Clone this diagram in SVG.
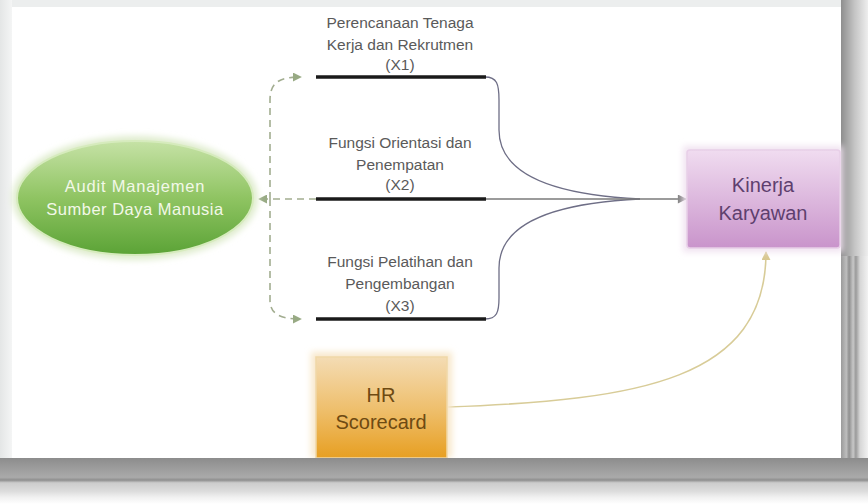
<svg xmlns="http://www.w3.org/2000/svg" width="868" height="504" viewBox="0 0 868 504">
<defs>
<linearGradient id="gEll" x1="0" y1="0" x2="0" y2="1"><stop offset="0" stop-color="#c6e2a6"/><stop offset="0.5" stop-color="#8fc462"/><stop offset="1" stop-color="#5ba336"/></linearGradient>
<linearGradient id="gKin" x1="0" y1="0" x2="0" y2="1"><stop offset="0" stop-color="#f0dcf0"/><stop offset="1" stop-color="#c994cb"/></linearGradient>
<linearGradient id="gHR" x1="0" y1="0" x2="0" y2="1"><stop offset="0" stop-color="#f4dcb4"/><stop offset="0.55" stop-color="#eebd68"/><stop offset="1" stop-color="#e79f22"/></linearGradient>
<linearGradient id="gRight" x1="0" y1="0" x2="1" y2="0"><stop offset="0" stop-color="#8e8e8e"/><stop offset="0.5" stop-color="#c4c4c4"/><stop offset="1" stop-color="#eeeeee"/></linearGradient>
<linearGradient id="gRight2" x1="0" y1="0" x2="1" y2="0"><stop offset="0" stop-color="#9a9a9a"/><stop offset="0.2" stop-color="#bdbdbd"/><stop offset="0.3" stop-color="#8f8f8f"/><stop offset="0.45" stop-color="#c8c8c8"/><stop offset="0.55" stop-color="#9a9a9a"/><stop offset="0.7" stop-color="#d6d6d6"/><stop offset="1" stop-color="#f2f2f2"/></linearGradient>
<linearGradient id="gBottom" x1="0" y1="0" x2="0" y2="1"><stop offset="0" stop-color="#8c8c8c"/><stop offset="0.22" stop-color="#9c9c9c"/><stop offset="0.42" stop-color="#aaaaaa"/><stop offset="0.48" stop-color="#8e8e8e"/><stop offset="0.54" stop-color="#cccccc"/><stop offset="0.72" stop-color="#dcdcdc"/><stop offset="0.85" stop-color="#f0f0f0"/><stop offset="1" stop-color="#ffffff"/></linearGradient>
<linearGradient id="gLeft" x1="0" y1="0" x2="1" y2="0"><stop offset="0" stop-color="#e4e6e6"/><stop offset="1" stop-color="#f4f5f5"/></linearGradient>
<filter id="glow" x="-20%" y="-20%" width="140%" height="140%"><feGaussianBlur stdDeviation="3"/></filter>
<marker id="arrG" viewBox="0 0 10 10" refX="9" refY="5" markerWidth="9" markerHeight="9" orient="auto" markerUnits="userSpaceOnUse"><path d="M0,0 L10,5 L0,10 z" fill="#98aa84"/></marker>
<marker id="arrK" viewBox="0 0 10 10" refX="9" refY="5" markerWidth="10" markerHeight="9" orient="auto" markerUnits="userSpaceOnUse"><path d="M0,0 L10,5 L0,10 z" fill="#808080"/></marker>
<marker id="arrY" viewBox="0 0 10 10" refX="9" refY="5" markerWidth="9" markerHeight="9" orient="auto" markerUnits="userSpaceOnUse"><path d="M0,0 L10,5 L0,10 z" fill="#d8c890"/></marker>
<style>
.lbl{font-family:"Liberation Sans",Arial,sans-serif;font-size:15.5px;fill:#5a5a5a;text-anchor:middle}
.bar{stroke:#1a1a1a;stroke-width:3.5;fill:none}
.dash{stroke:#a2ad90;stroke-width:1.6;stroke-dasharray:7 5;fill:none}
.curve{stroke:#6e6e86;stroke-width:1.3;fill:none}
.big{font-family:"Liberation Sans",Arial,sans-serif;text-anchor:middle}
</style>
</defs>
<rect x="0" y="0" width="868" height="504" fill="#ffffff"/>
<rect x="0" y="0" width="868" height="7" fill="#eceeee"/>
<rect x="0" y="0" width="12" height="458" fill="url(#gLeft)"/>
<rect x="841" y="0" width="27" height="256" fill="url(#gRight)"/>
<rect x="841" y="256" width="27" height="204" fill="url(#gRight2)"/>

<g id="connectors">
<path class="dash" d="M316 199 L259 199" marker-end="url(#arrG)"/>
<path class="dash" d="M270 199 L270 100 C270 82 280 77 301 77" marker-end="url(#arrG)"/>
<path class="dash" d="M270 199 L270 300 C270 314 280 319 301 319" marker-end="url(#arrG)"/>
<path class="curve" d="M485 77 C497 77 499 84 499 100 L499 130 C499 175 555 195 640 199"/>
<path class="curve" d="M485 319 C497 319 499 312 499 298 L499 268 C499 223 555 203 640 199"/>
<path d="M485 199 L686 199" stroke="#7a7a7a" stroke-width="1.4" fill="none" marker-end="url(#arrK)"/>
<path d="M448 407 C640 400 766 380 766 252" stroke="#d8cc98" stroke-width="1.6" fill="none" marker-end="url(#arrY)"/>
</g>

<g id="audit">
<ellipse cx="135" cy="198" rx="123" ry="62" fill="#dfeccd" filter="url(#glow)"/>
<ellipse cx="135" cy="198" rx="118" ry="57" fill="url(#gEll)" stroke="#d6ebbd" stroke-width="2"/>
<text class="big" x="135" y="192" font-size="16.5" fill="#f2f8e8" letter-spacing="0.8">Audit Manajemen</text>
<text class="big" x="135" y="215" font-size="16.5" fill="#f2f8e8" letter-spacing="0.5">Sumber Daya Manusia</text>
</g>

<g id="x1">
<line class="bar" x1="316" y1="77" x2="486" y2="77"/>
<text class="lbl" x="400" y="28">Perencanaan Tenaga</text>
<text class="lbl" x="400" y="50">Kerja dan Rekrutmen</text>
<text class="lbl" x="400" y="70">(X1)</text>
</g>

<g id="x2">
<line class="bar" x1="316" y1="199" x2="486" y2="199"/>
<text class="lbl" x="400" y="148">Fungsi Orientasi dan</text>
<text class="lbl" x="400" y="170">Penempatan</text>
<text class="lbl" x="400" y="190">(X2)</text>
</g>

<g id="x3">
<line class="bar" x1="316" y1="319" x2="486" y2="319"/>
<text class="lbl" x="400" y="267">Fungsi Pelatihan dan</text>
<text class="lbl" x="400" y="289">Pengembangan</text>
<text class="lbl" x="400" y="311">(X3)</text>
</g>

<g id="kinerja">
<rect x="683" y="146" width="160" height="106" fill="#f1e3f1" filter="url(#glow)"/>
<rect x="687" y="150" width="153" height="98" rx="3" fill="url(#gKin)" stroke="#e8cfe8" stroke-width="1.5"/>
<text class="big" x="763" y="192" font-size="20" fill="#5e3f6e">Kinerja</text>
<text class="big" x="763" y="220" font-size="20" fill="#5e3f6e">Karyawan</text>
</g>

<g id="hr">
<rect x="311" y="352" width="141" height="106" fill="#f8e8cc" filter="url(#glow)"/>
<rect x="316" y="357" width="131" height="101" fill="url(#gHR)" stroke="#f0d8a8" stroke-width="1.5"/>
<text class="big" x="381" y="402" font-size="20" fill="#6e4a12">HR</text>
<text class="big" x="381" y="429" font-size="20" fill="#6e4a12">Scorecard</text>
</g>
<rect x="0" y="458" width="868" height="46" fill="url(#gBottom)"/>
</svg>
